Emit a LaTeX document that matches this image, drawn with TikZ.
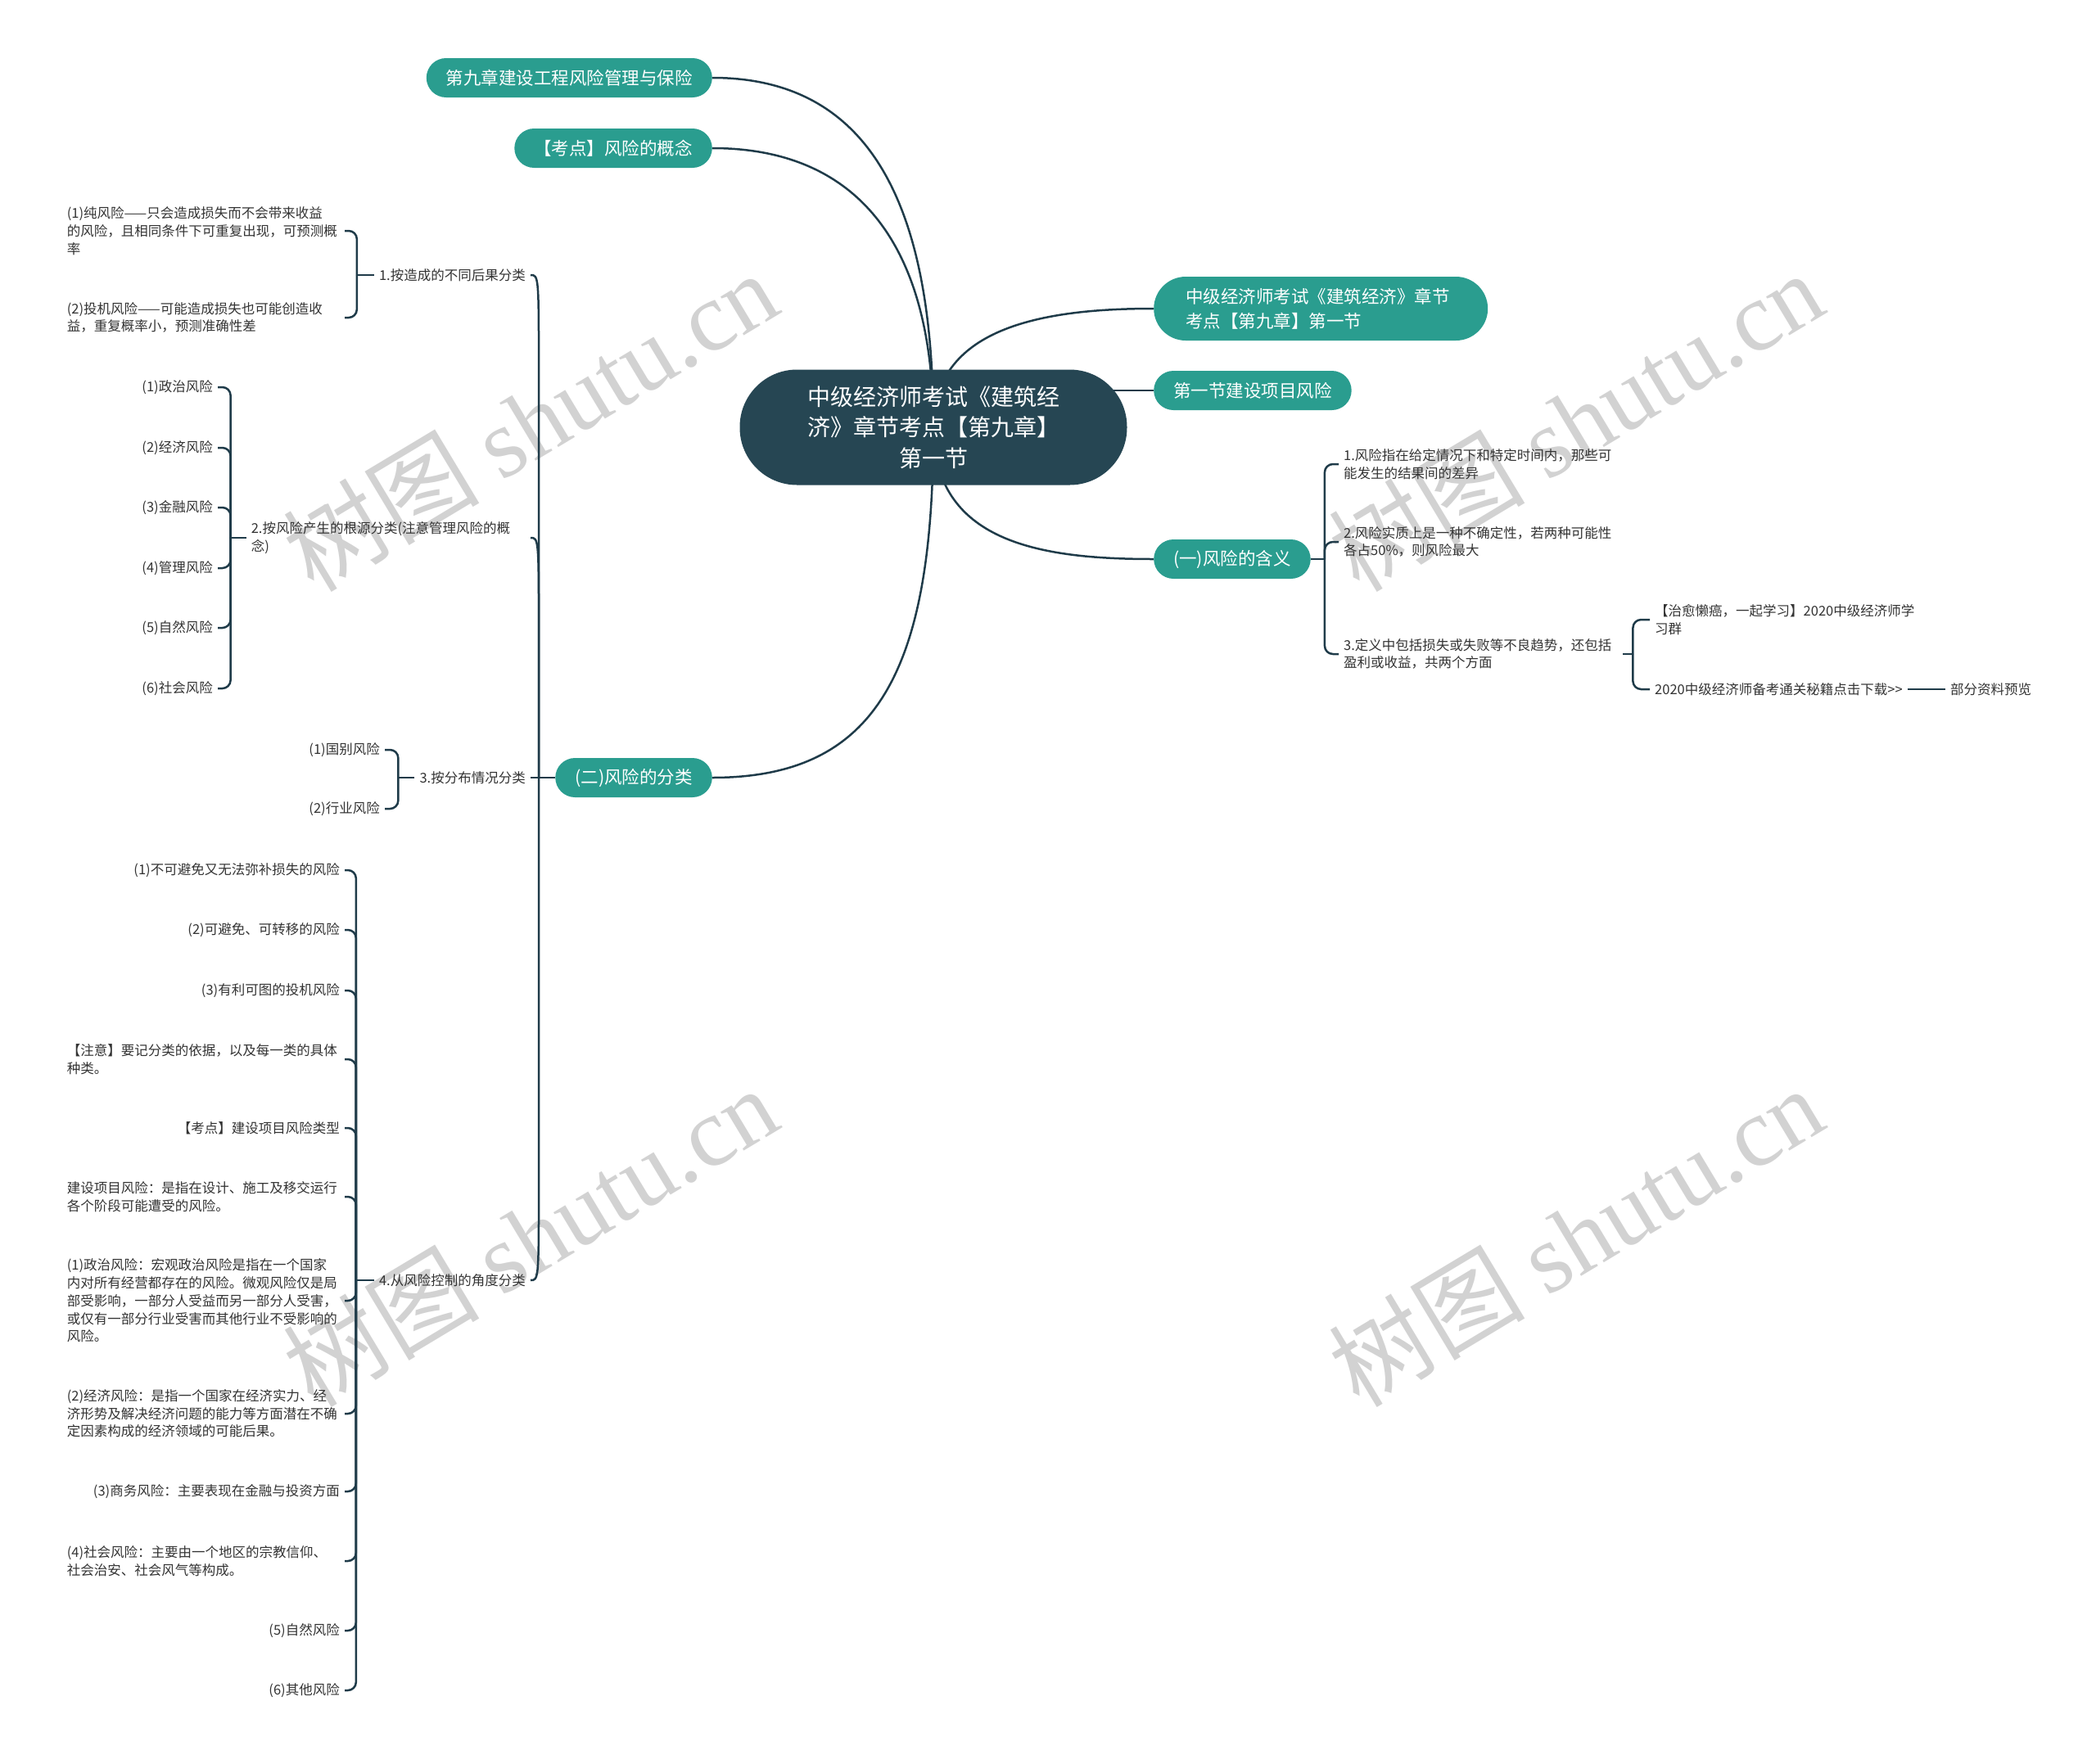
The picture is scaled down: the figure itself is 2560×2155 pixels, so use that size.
\documentclass[tikz,border=0pt]{standalone}
\usepackage{fontspec}
\usepackage{xcolor}
\usepackage{tikz}
\usetikzlibrary{calc,backgrounds}

\newfontfamily\cjk{Noto Sans CJK SC}
\newfontfamily\wmlatin{Liberation Serif}

\definecolor{rootc}{HTML}{264653}
\definecolor{topicc}{HTML}{2A9D8F}
\definecolor{linec}{HTML}{1F3B49}
\definecolor{wmc}{HTML}{D2D2D2}

\tikzset{
  rootbox/.style={fill=rootc, text=white, rounded corners=70pt,
    minimum width=473pt, minimum height=141pt, align=center,
    font=\cjk\fontsize{28}{37.5}\selectfont},
  topic/.style={fill=topicc, text=white, rounded corners=24pt,
    minimum height=48pt, inner xsep=24pt,
    font=\cjk\fontsize{21.5}{30}\selectfont},
  leaf/.style={inner xsep=6pt, inner ysep=3pt, text=black!80, align=left,
    font=\cjk\fontsize{16.5}{21.7}\selectfont},
  link/.style={draw=linec, line width=2.5pt},
  brace/.style={link, rounded corners=10pt},
  wmark/.style={text=wmc, rotate=31, font=\cjk\fontsize{120}{120}\selectfont}
}

\begin{document}
\begin{tikzpicture}[x=1pt, y=-1pt]
\useasboundingbox (0,0) rectangle (2560,2155);

% centre topic
\node[rootbox] (root) at (1140,522) {中级经济师考试《建筑经\\济》章节考点【第九章】\\第一节};

% main branches, left side
\node[topic, anchor=east] (ch9) at (870,95) {第九章建设工程风险管理与保险};
\node[topic, anchor=east] (kd) at (870,181) {【考点】风险的概念};
\node[topic, anchor=east] (cls) at (870,950) {(二)风险的分类};

% main branches, right side
\node[topic, anchor=west, rounded corners=39pt, minimum height=78pt, inner xsep=39pt,
  text width=330pt, align=left] (ttl) at (1409,377) {中级经济师考试《建筑经济》章节\\考点【第九章】第一节};
\node[topic, anchor=west] (sec) at (1409,477) {第一节建设项目风险};
\node[topic, anchor=west] (mean) at (1409,683) {(一)风险的含义};

% (二) -- the four ways to classify
\node[leaf, anchor=east] (cls1) at (648,336) {1.按造成的不同后果分类};
\node[leaf, anchor=east, text width=335pt] (cls2) at (648,657) {2.按风险产生的根源分类(注意管理风险的概\\念)};
\node[leaf, anchor=east] (cls3) at (648,950) {3.按分布情况分类};
\node[leaf, anchor=east] (cls4) at (648,1564) {4.从风险控制的角度分类};

% 1. by consequence
\node[leaf, anchor=east, text width=333pt] (cls1a) at (421,282) {(1)纯风险——只会造成损失而不会带来收益\\的风险，且相同条件下可重复出现，可预测概\\率};
\node[leaf, anchor=east, text width=333pt] (cls1b) at (421,388) {(2)投机风险——可能造成损失也可能创造收\\益，重复概率小，预测准确性差};

% 2. by source
\node[leaf, anchor=east] (cls2a) at (266,473) {(1)政治风险};
\node[leaf, anchor=east] (cls2b) at (266,547) {(2)经济风险};
\node[leaf, anchor=east] (cls2c) at (266,620) {(3)金融风险};
\node[leaf, anchor=east] (cls2d) at (266,694) {(4)管理风险};
\node[leaf, anchor=east] (cls2e) at (266,767) {(5)自然风险};
\node[leaf, anchor=east] (cls2f) at (266,841) {(6)社会风险};

% 3. by distribution
\node[leaf, anchor=east] (cls3a) at (470,916) {(1)国别风险};
\node[leaf, anchor=east] (cls3b) at (470,988) {(2)行业风险};

% 4. by control
\node[leaf, anchor=east] (cls4a) at (421,1063) {(1)不可避免又无法弥补损失的风险};
\node[leaf, anchor=east] (cls4b) at (421,1136) {(2)可避免、可转移的风险};
\node[leaf, anchor=east] (cls4c) at (421,1210) {(3)有利可图的投机风险};
\node[leaf, anchor=east, text width=333pt] (cls4d) at (421,1294) {【注意】要记分类的依据，以及每一类的具体\\种类。};
\node[leaf, anchor=east] (cls4e) at (421,1378) {【考点】建设项目风险类型};
\node[leaf, anchor=east, text width=333pt] (cls4f) at (421,1462) {建设项目风险：是指在设计、施工及移交运行\\各个阶段可能遭受的风险。};
\node[leaf, anchor=east, text width=333pt] (cls4g) at (421,1589) {(1)政治风险：宏观政治风险是指在一个国家\\内对所有经营都存在的风险。微观风险仅是局\\部受影响，一部分人受益而另一部分人受害，\\或仅有一部分行业受害而其他行业不受影响的\\风险。};
\node[leaf, anchor=east, text width=333pt] (cls4h) at (421,1727) {(2)经济风险：是指一个国家在经济实力、经\\济形势及解决经济问题的能力等方面潜在不确\\定因素构成的经济领域的可能后果。};
\node[leaf, anchor=east] (cls4i) at (421,1822) {(3)商务风险：主要表现在金融与投资方面};
\node[leaf, anchor=east, text width=333pt] (cls4j) at (421,1907) {(4)社会风险：主要由一个地区的宗教信仰、\\社会治安、社会风气等构成。};
\node[leaf, anchor=east] (cls4k) at (421,1992) {(5)自然风险};
\node[leaf, anchor=east] (cls4l) at (421,2065) {(6)其他风险};

% (一) -- meaning of risk
\node[leaf, anchor=west, text width=335pt] (mean1) at (1635,567) {1.风险指在给定情况下和特定时间内，那些可\\能发生的结果间的差异};
\node[leaf, anchor=west, text width=335pt] (mean2) at (1635,662) {2.风险实质上是一种不确定性，若两种可能性\\各占50\%，则风险最大};
\node[leaf, anchor=west, text width=335pt] (mean3) at (1635,799) {3.定义中包括损失或失败等不良趋势，还包括\\盈利或收益，共两个方面};
\node[leaf, anchor=west] (m3a) at (2015,757) {【治愈懒癌，一起学习】2020中级经济师学\\习群};
\node[leaf, anchor=west] (m3b) at (2015,842) {2020中级经济师备考通关秘籍点击下载>{}>};
\node[leaf, anchor=west] (pre) at (2376,842) {部分资料预览};

% hubs of the brackets
\coordinate (h0) at ($(cls.west)+(-20,0)$);
\coordinate (h1) at ($(cls1.west)+(-21,0)$);
\coordinate (h2) at ($(cls2.west)+(-19,0)$);
\coordinate (h3) at ($(cls3.west)+(-20,0)$);
\coordinate (h4) at ($(cls4.west)+(-22,0)$);
\coordinate (g0) at ($(mean.east)+(17,0)$);
\coordinate (g3) at ($(mean3.east)+(12,0)$);

\begin{scope}[on background layer]
% watermark
\node[wmark] (wm1) at (647,514) {树图 {\wmlatin shutu.cn}};
\node[wmark] (wm2) at (1924,514) {树图 {\wmlatin shutu.cn}};
\node[wmark] (wm3) at (647,1510) {树图 {\wmlatin shutu.cn}};
\node[wmark] (wm4) at (1924,1510) {树图 {\wmlatin shutu.cn}};

% root to main branches
\draw[link] (root.center) .. controls +(0,-260) and +(200,0) .. (ch9.east);
\draw[link] (root.center) .. controls +(0,-220) and +(180,0) .. (kd.east);
\draw[link] (root.center) .. controls +(0,300) and +(200,0) .. (cls.east);
\draw[link] (root.center) .. controls +(0,-120) and +(-140,0) .. (ttl.west);
\draw[link] (root.center |- sec.west) -- (sec.west);
\draw[link] (root.center) .. controls +(0,140) and +(-140,0) .. (mean.west);

% spine of (二)
\draw[link] (cls.west) -- (cls3.east);
\draw[link] (h0) -- ($(h0 |- cls1.east)+(0,130)$) .. controls (h0 |- cls1.east) .. (cls1.east);
\draw[link] (h0) -- ($(h0 |- cls2.east)+(0,130)$) .. controls (h0 |- cls2.east) .. (cls2.east);
\draw[link] (h0) -- ($(h0 |- cls4.east)+(0,-130)$) .. controls (h0 |- cls4.east) .. (cls4.east);

% brackets, left side
\draw[link] (cls1.west) -- (h1);
\draw[brace] (h1) |- (cls1a.east);
\draw[brace] (h1) |- (cls1b.east);

\draw[link] (cls2.west) -- (h2);
\draw[brace] (h2) |- (cls2a.east);
\draw[brace] (h2) |- (cls2b.east);
\draw[brace] (h2) |- (cls2c.east);
\draw[brace] (h2) |- (cls2d.east);
\draw[brace] (h2) |- (cls2e.east);
\draw[brace] (h2) |- (cls2f.east);

\draw[link] (cls3.west) -- (h3);
\draw[brace] (h3) |- (cls3a.east);
\draw[brace] (h3) |- (cls3b.east);

\draw[link] (cls4.west) -- (h4);
\draw[brace] (h4) |- (cls4a.east);
\draw[brace] (h4) |- (cls4b.east);
\draw[brace] (h4) |- (cls4c.east);
\draw[brace] (h4) |- (cls4d.east);
\draw[brace] (h4) |- (cls4e.east);
\draw[brace] (h4) |- (cls4f.east);
\draw[brace] (h4) |- (cls4g.east);
\draw[brace] (h4) |- (cls4h.east);
\draw[brace] (h4) |- (cls4i.east);
\draw[brace] (h4) |- (cls4j.east);
\draw[brace] (h4) |- (cls4k.east);
\draw[brace] (h4) |- (cls4l.east);

% brackets, right side
\draw[link] (mean.east) -- (g0);
\draw[brace] (g0) |- (mean1.west);
\draw[brace] (g0) |- (mean2.west);
\draw[brace] (g0) |- (mean3.west);

\draw[link] (mean3.east) -- (g3);
\draw[brace] (g3) |- (m3a.west);
\draw[brace] (g3) |- (m3b.west);
\draw[link] (m3b.east) -- (pre.west);
\end{scope}

\end{tikzpicture}
\end{document}
